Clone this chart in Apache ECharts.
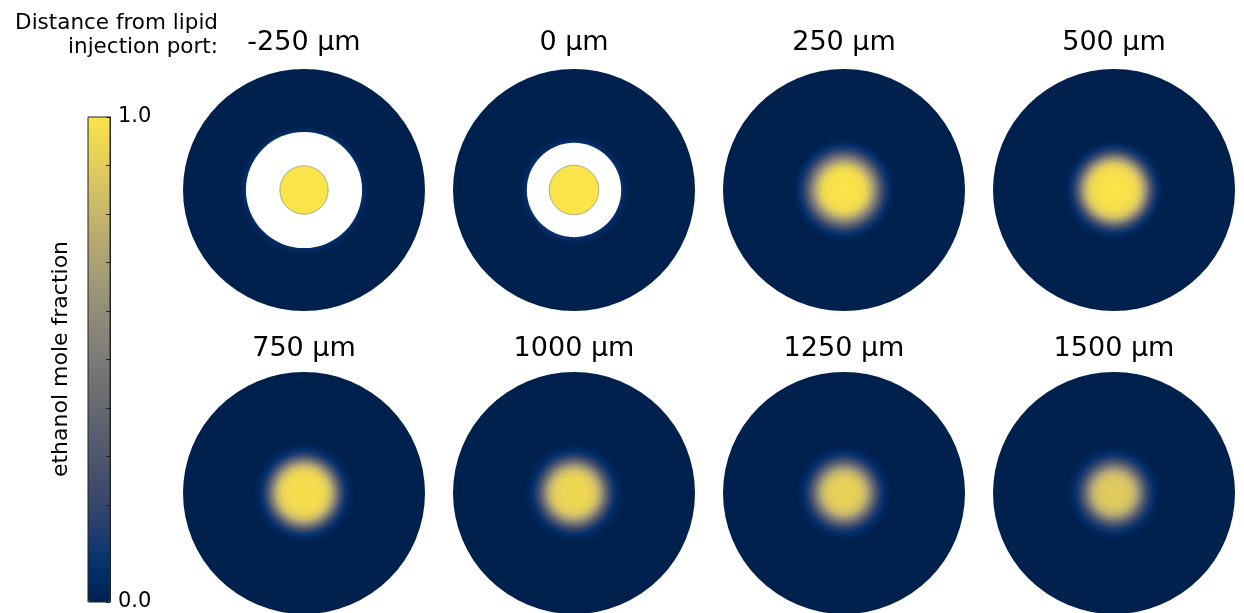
<!DOCTYPE html>
<html>
<head>
<meta charset="utf-8">
<title>ethanol mole fraction</title>
<script src="https://cdn.jsdelivr.net/npm/echarts@6/dist/echarts.min.js"></script>
<style>
  html, body { margin: 0; padding: 0; background: #fff; }
  #chart { width: 1244px; height: 613px; }
</style>
</head>
<body>
<div id="chart"></div>
<script>
// distance from lipid injection port, one panel each
const panelLabels = ['-250 µm', '0 µm', '250 µm', '500 µm', '750 µm', '1000 µm', '1250 µm', '1500 µm']

// radii as a fraction of the channel radius
const channelR = 1.0
const tubeWallR = [0.48, 0.39]     // lipid injection tube (white) in the first two panels
const tubeCoreR = [0.20, 0.205]    // ethanol stream inside the tube
const wallGlowR = [[0.48, 0.51, 0.55], [0.39, 0.42, 0.46]]
const wallGlowF = [[0.07, 0.02, 0], [0.08, 0.03, 0]]

// radial profile of the ethanol plume downstream of the port
const plumeR = [0, 0.10, 0.14, 0.18, 0.22, 0.26, 0.30, 0.34, 0.38, 0.42]
const plume250 = [1.0, 0.99, 0.98, 0.93, 0.78, 0.56, 0.33, 0.14, 0.05, 0]
const plume500 = [1.0, 0.99, 0.98, 0.95, 0.85, 0.62, 0.32, 0.12, 0.03, 0]
const plume750 = [0.98, 0.97, 0.96, 0.92, 0.80, 0.55, 0.28, 0.10, 0.03, 0]
const plume1000 = [0.95, 0.94, 0.92, 0.85, 0.68, 0.42, 0.20, 0.07, 0.02, 0]
const plume1250 = [0.92, 0.91, 0.87, 0.77, 0.55, 0.32, 0.14, 0.05, 0.01, 0]
const plume1500 = [0.90, 0.88, 0.84, 0.73, 0.50, 0.28, 0.12, 0.04, 0.01, 0]

const cbTicks = [0, 1]

// cividis-like colour map
const cmapColors = ['#00204d', '#002c66', '#0d3670', '#253e6d', '#35466c', '#434e6c', '#4f576c',
  '#5b5f6e', '#666970', '#717173', '#7c7b78', '#878479', '#928d78', '#9e9776', '#aba174',
  '#b8ab70', '#c6b66b', '#d4c165', '#e2cd5c', '#efd851', '#f9e449']

function hexToRgb(h) {
  return [parseInt(h.slice(1, 3), 16), parseInt(h.slice(3, 5), 16), parseInt(h.slice(5, 7), 16)]
}
function cmap(f) {
  f = Math.max(0, Math.min(1, f))
  const n = cmapColors.length - 1
  const i = Math.min(n - 1, Math.floor(f * n))
  const t = f * n - i
  const a = hexToRgb(cmapColors[i]), b = hexToRgb(cmapColors[i + 1])
  const c = a.map((v, k) => Math.round(v + (b[k] - v) * t))
  return 'rgb(' + c.join(',') + ')'
}
function radial(rs, fs) {
  const stops = rs.map((r, k) => ({ offset: r / channelR, color: cmap(fs[k]) }))
  stops.push({ offset: 1, color: cmap(0) })
  return { type: 'radial', x: 0.5, y: 0.5, r: 0.5, colorStops: stops }
}

const profiles = [
  [wallGlowR[0], wallGlowF[0]],
  [wallGlowR[1], wallGlowF[1]],
  [plumeR, plume250],
  [plumeR, plume500],
  [plumeR, plume750],
  [plumeR, plume1000],
  [plumeR, plume1250],
  [plumeR, plume1500]
]

const colX = [304, 574, 844, 1114]
const rowY = [190, 493]
const diskPx = 121

const polar = [], angleAxis = [], radiusAxis = [], series = [], graphic = []
panelLabels.forEach((lab, i) => {
  const cx = colX[i % 4], cy = rowY[Math.floor(i / 4)]
  polar.push({ center: [cx, cy], radius: [0, diskPx] })
  angleAxis.push({ polarIndex: i, type: 'category', data: ['x'], show: false })
  radiusAxis.push({ polarIndex: i, type: 'value', min: 0, max: channelR, show: false })
  const base = { type: 'bar', coordinateSystem: 'polar', polarIndex: i, barGap: '-100%', barCategoryGap: '0%', silent: true, animation: false }
  series.push(Object.assign({}, base, {
    data: [channelR],
    itemStyle: { color: radial(profiles[i][0], profiles[i][1]) }
  }))
  if (i < 2) {
    series.push(Object.assign({}, base, { data: [tubeWallR[i]], itemStyle: { color: '#ffffff' } }))
    series.push(Object.assign({}, base, {
      data: [tubeCoreR[i]],
      itemStyle: { color: cmap(1), borderColor: '#a09a78', borderWidth: 0.8 }
    }))
  }
  graphic.push({
    type: 'text', x: cx, y: i < 4 ? 43 : 349,
    style: { text: lab, font: '27px "DejaVu Sans"', fill: '#000', align: 'center', verticalAlign: 'middle' }
  })
})

graphic.push({
  type: 'text', x: 218, y: 23,
  style: { text: 'Distance from lipid', font: '21.5px "DejaVu Sans"', fill: '#000', align: 'right', verticalAlign: 'middle' }
})
graphic.push({
  type: 'text', x: 218, y: 47,
  style: { text: 'injection port:', font: '21.5px "DejaVu Sans"', fill: '#000', align: 'right', verticalAlign: 'middle' }
})
graphic.push({
  type: 'text', x: 61, y: 359, rotation: Math.PI / 2,
  style: { text: 'ethanol mole fraction', font: '22px "DejaVu Sans"', fill: '#000', align: 'center', verticalAlign: 'middle' }
})

const chart = echarts.init(document.getElementById('chart'))
chart.setOption({
  backgroundColor: '#fff',
  textStyle: { fontFamily: 'DejaVu Sans' },
  polar: polar,
  angleAxis: angleAxis,
  radiusAxis: radiusAxis,
  grid: { left: 88, top: 117, width: 22, height: 485, show: true, borderColor: '#222', borderWidth: 1, backgroundColor: 'transparent', outerBoundsMode: 'none', z: 5 },
  xAxis: { type: 'value', show: false, min: 0, max: 1 },
  yAxis: {
    type: 'value', position: 'right', min: 0, max: 1, interval: 0.1, z: 5,
    axisLine: { show: true, onZero: false, lineStyle: { color: '#222', width: 1 } },
    axisTick: { show: true, inside: true, length: 4, lineStyle: { color: '#222' } },
    splitLine: { show: false },
    axisLabel: {
      color: '#000', fontSize: 21, fontFamily: 'DejaVu Sans', margin: 8, padding: [6, 0, 0, 0],
      formatter: v => cbTicks.some(t => Math.abs(t - v) < 1e-6) ? v.toFixed(1) : ''
    }
  },
  visualMap: {
    type: 'continuous', min: 0, max: 1, seriesIndex: [], calculable: false,
    orient: 'vertical', left: 88, top: 117, itemWidth: 22, itemHeight: 485, padding: 0,
    inRange: { color: cmapColors }
  },
  graphic: graphic,
  series: series
})
</script>
</body>
</html>
